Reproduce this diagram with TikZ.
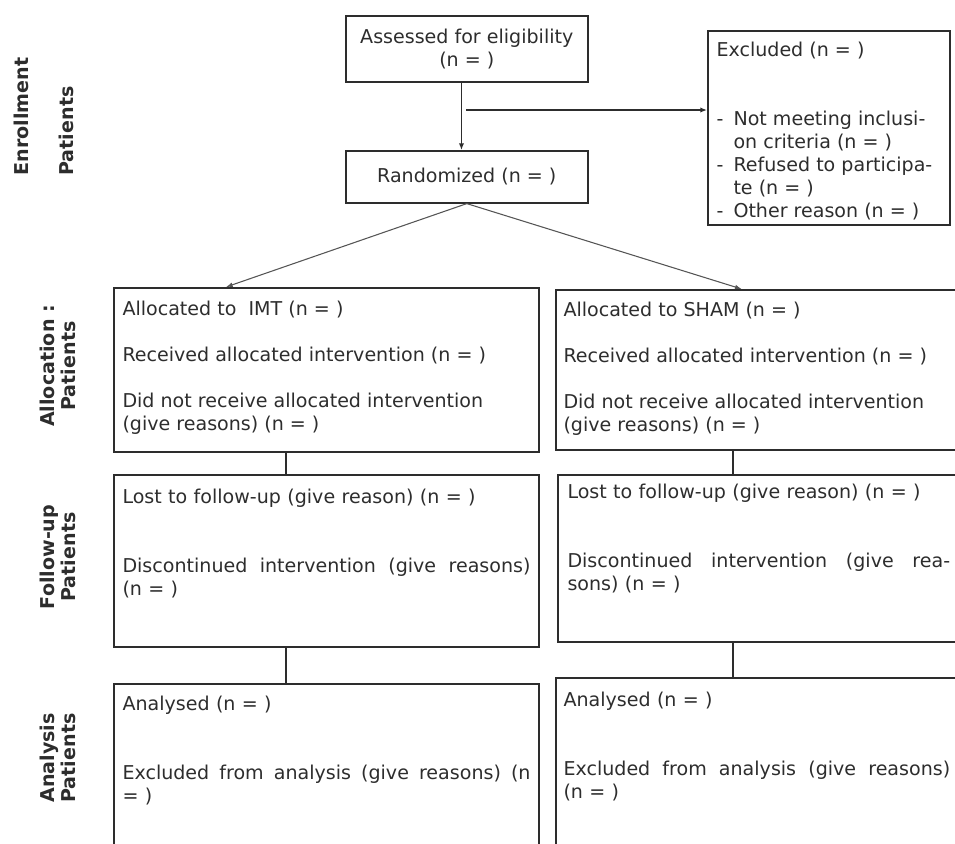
\documentclass[tikz,border=0pt]{standalone}
\usepackage{fontspec}
\setmainfont{DejaVu Sans}
\usetikzlibrary{arrows.meta}
\definecolor{ink}{RGB}{45,45,45}
\definecolor{thin}{RGB}{85,85,85}
\newcommand{\dashitem}{\makebox[12.75pt][l]{-}}
\newcommand{\hangitem}{\hspace*{12.75pt}}
\tikzset{every picture/.style={line width=0.75pt}}
\tikzset{
  box/.style={draw=ink, line width=1.2pt, inner sep=0pt, anchor=north west, text=ink, align=center, font=\fontsize{14.3}{17.25}\selectfont},
  txt/.style={anchor=north west, inner sep=0pt, text=ink, align=left, font=\fontsize{14.3}{17.25}\selectfont},
  side/.style={rotate=90, inner sep=0pt, text=ink, align=center, font=\fontsize{14.3}{15.5}\selectfont\bfseries},
  arr/.style={draw=ink, line width=1.2pt, -{Latex[length=5pt,width=4pt]}},
  diag/.style={draw=thin, line width=0.8pt, -{Latex[length=5pt,width=3.5pt]}},
  link/.style={draw=ink, line width=1pt}
}

\begin{document}
\begin{tikzpicture}[x=0.75pt,y=0.75pt,yscale=-1,xscale=1]
\clip (0,0) rectangle (955,843);

%Shape: Rectangle [id:assess]
\node[box, minimum width=181.5pt, minimum height=49.5pt] (assess) at (345,15) {Assessed for eligibility\\(n = )};
%Shape: Rectangle [id:rand]
\node[box, minimum width=181.5pt, minimum height=39pt] (rand) at (345,150) {Randomized (n = )};
%Shape: Rectangle [id:excl]
\node[box, minimum width=181.5pt, minimum height=145.5pt] (excl) at (707,30) {};
%Shape: Rectangle [id:allocL]
\node[box, minimum width=318.75pt, minimum height=123pt] (allocL) at (113,287) {};
%Shape: Rectangle [id:allocR]
\node[box, minimum width=307.5pt, minimum height=120pt] (allocR) at (555,289) {};
%Shape: Rectangle [id:follL]
\node[box, minimum width=318.75pt, minimum height=129pt] (follL) at (113,474) {};
%Shape: Rectangle [id:follR]
\node[box, minimum width=306pt, minimum height=125.25pt] (follR) at (557,474) {};
%Shape: Rectangle [id:anaL]
\node[box, minimum width=318.75pt, minimum height=135pt] (anaL) at (113,683) {};
%Shape: Rectangle [id:anaR]
\node[box, minimum width=307.5pt, minimum height=140pt] (anaR) at (555,677) {};

%Straight Lines
\draw[arr] ([xshift=-4pt]assess.south) -- ([xshift=-4pt]rand.north);
\coordinate (branch) at (466,110);
\draw[arr] (branch) -- (branch -| excl.west);
\draw[diag] (rand.south) -- ([xshift=84.75pt]allocL.north west);
\draw[diag] (rand.south) -- ([xshift=140pt]allocR.north west);
\draw[link] ([xshift=129.75pt]allocL.south west) -- ([xshift=129.75pt]follL.north west);
\draw[link] ([xshift=133.5pt]allocR.south west) -- ([xshift=132pt]follR.north west);
\draw[link] ([xshift=129.75pt]follL.south west) -- ([xshift=129.75pt]anaL.north west);
\draw[link] ([xshift=132pt]follR.south west) -- ([xshift=133.5pt]anaR.north west);

% Text Node
\node[txt] (excltxt) at (716,42) {Excluded (n = )\\[34.5pt]\dashitem Not meeting inclusi-\\\hangitem on criteria (n = )\\\dashitem Refused to participa-\\\hangitem te (n = )\\\dashitem Other reason (n = )};
% Text Node
\node[txt] (allocLtxt) at (122,301) {Allocated to\ \ IMT (n = )\\[17.25pt]Received allocated intervention (n = )\\[17.25pt]Did not receive allocated intervention\\(give reasons) (n = )};
% Text Node
\node[txt] (allocRtxt) at (563,302) {Allocated to SHAM (n = )\\[17.25pt]Received allocated intervention (n = )\\[17.25pt]Did not receive allocated intervention\\(give reasons) (n = )};
% Text Node
\node[txt, text width=306pt] (follLtxt) at (122,489) {Lost to follow-up (give reason) (n = )\\[34.5pt]Discontinued\hfill intervention\hfill (give\hfill reasons)\\(n = )};
% Text Node
\node[txt, text width=287pt] (follRtxt) at (567,484) {Lost to follow-up (give reason) (n = )\\[34.5pt]Discontinued\hfill intervention\hfill (give\hfill rea-\\sons) (n = )};
% Text Node
\node[txt, text width=306pt] (anaLtxt) at (122,695) {Analysed (n = )\\[34.5pt]Excluded\hfill from\hfill analysis\hfill (give\hfill reasons)\hfill (n\\= )};
% Text Node
\node[txt, text width=290pt] (anaRtxt) at (563,691) {Analysed (n = )\\[34.5pt]Excluded\hfill from\hfill analysis\hfill (give\hfill reasons)\\(n = )};

% Side labels
\node[side, anchor=west] (enrolA) at (21,176) {Enrollment};
\node[side, anchor=west] (enrolB) at (66,176) {Patients};
\node[side] (allocS) at (58,366) {Allocation :\\Patients};
\node[side] (follS) at (58,557) {Follow-up\\Patients};
\node[side] (anaS) at (58,758) {Analysis\\Patients};

\end{tikzpicture}
\end{document}
